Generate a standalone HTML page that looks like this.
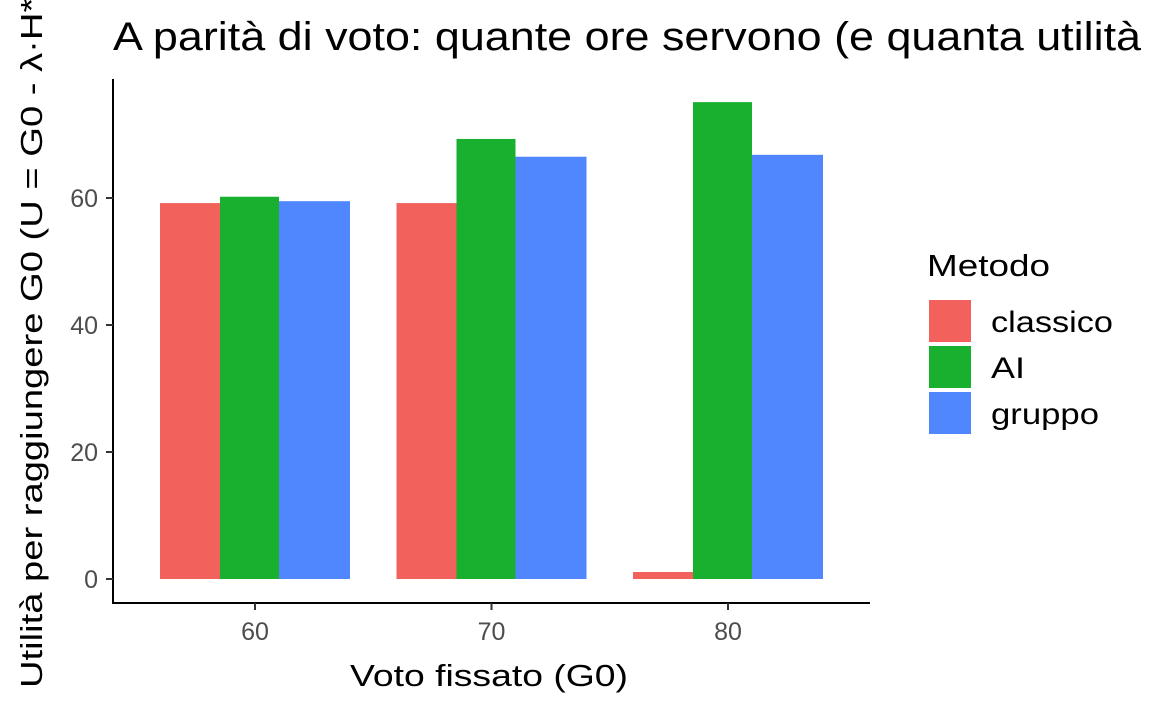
<!DOCTYPE html>
<html><head><meta charset="utf-8"><style>
html,body{margin:0;padding:0;background:#fff;overflow:hidden}
svg{display:block;font-family:"Liberation Sans",sans-serif}
</style></head><body>
<svg id="chart" width="1152" height="711">
<text x="113" y="50" font-size="40" textLength="1028" lengthAdjust="spacingAndGlyphs" fill="#000">A parità di voto: quante ore servono (e quanta utilità</text>
<text transform="translate(42,688) rotate(-90)" text-anchor="start" font-size="31" textLength="703" lengthAdjust="spacingAndGlyphs" fill="#000">Utilità per raggiungere G0  (U = G0 - λ·H*)</text>
<text x="350" y="686" font-size="31" textLength="278" lengthAdjust="spacingAndGlyphs" fill="#000">Voto fissato (G0)</text>
<g id="bars"></g>
<g id="axes"></g>
<text x="927" y="276" font-size="31" textLength="123" lengthAdjust="spacingAndGlyphs" fill="#000">Metodo</text>
<g id="legend"></g>
</svg>
<script>
const categories = ["60","70","80"];
const series = ["classico","AI","gruppo"];
const classico = [59.2, 59.2, 1.1];
const ai = [60.2, 69.3, 75.1];
const gruppo = [59.5, 66.5, 66.8];
const yTicks = [0,20,40,60];
const colors = ["#F2615C","#1AB02F","#5087FF"];
const values=[classico,ai,gruppo];
const legendWidths=[122,34,108];
const ns="http://www.w3.org/2000/svg";
const y0=579, pxPerUnit=6.35;
function yScale(v){return y0-v*pxPerUnit;}
function xCenter(i){return 255+i*236.5;}
const offs=[[-95,60],[-35,59],[24,71]];
const bars=document.getElementById('bars');
categories.forEach((c,i)=>{
  series.forEach((s,j)=>{
    const r=document.createElementNS(ns,'rect');
    const v=values[j][i];
    r.setAttribute('x',xCenter(i)+offs[j][0]);
    r.setAttribute('width',offs[j][1]);
    r.setAttribute('y',yScale(v));
    r.setAttribute('height',y0-yScale(v));
    r.setAttribute('fill',colors[j]);
    
    
    bars.appendChild(r);
  });
});
const axes=document.getElementById('axes');
axes.innerHTML='<line x1="113" y1="79" x2="113" y2="603" stroke="#000" stroke-width="2"/>'+
'<line x1="112" y1="603" x2="870" y2="603" stroke="#000" stroke-width="2"/>';
yTicks.forEach(t=>{
  const l=document.createElementNS(ns,'line');
  l.setAttribute('x1',106);l.setAttribute('x2',113);
  l.setAttribute('y1',yScale(t));l.setAttribute('y2',yScale(t));
  l.setAttribute('stroke','#333');l.setAttribute('stroke-width',2);
  axes.appendChild(l);
  const tx=document.createElementNS(ns,'text');
  tx.setAttribute('x',98);tx.setAttribute('y',yScale(t)+9);
  tx.setAttribute('text-anchor','end');tx.setAttribute('font-size','25');tx.setAttribute('fill','#4d4d4d');
  tx.textContent=t;
  
  
  axes.appendChild(tx);
});
categories.forEach((c,i)=>{
  const l=document.createElementNS(ns,'line');
  l.setAttribute('x1',xCenter(i));l.setAttribute('x2',xCenter(i));
  l.setAttribute('y1',603);l.setAttribute('y2',610);
  l.setAttribute('stroke','#333');l.setAttribute('stroke-width',2);
  axes.appendChild(l);
  const tx=document.createElementNS(ns,'text');
  tx.setAttribute('x',xCenter(i));tx.setAttribute('y',640);
  tx.setAttribute('text-anchor','middle');tx.setAttribute('font-size','25');tx.setAttribute('fill','#4d4d4d');
  tx.textContent=c;
  
  
  axes.appendChild(tx);
});
const leg=document.getElementById('legend');
series.forEach((s,j)=>{
  const r=document.createElementNS(ns,'rect');
  r.setAttribute('x',929);r.setAttribute('y',300+j*46);
  r.setAttribute('width',42);r.setAttribute('height',42);
  r.setAttribute('fill',colors[j]);
  
  
  leg.appendChild(r);
  const tx=document.createElementNS(ns,'text');
  tx.setAttribute('x',991);tx.setAttribute('y',332+j*46);
  tx.setAttribute('font-size','30');
  tx.setAttribute('textLength',legendWidths[j]);
  tx.setAttribute('lengthAdjust','spacingAndGlyphs');
  tx.textContent=s;
  
  
  leg.appendChild(tx);
});
</script>
</body></html>
